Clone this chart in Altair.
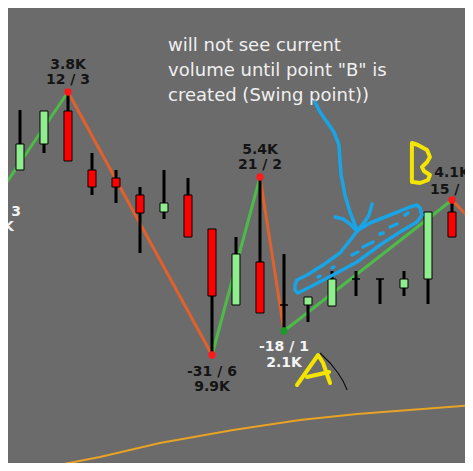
import altair as alt
import pandas as pd

# ---------------- candles (bar index, prices) ----------------
bars = list(range(1, 20))
opens = [330, 356, 389, 330, 322, 305, 288, 305, 271, 195, 238, 195, 195, 194, 221, 221, 212, 221, 288]
closes = [356, 389, 339, 313, 313, 287, 297, 263, 204, 246, 187, 195, 203, 221, 221, 221, 221, 288, 263]
highs = [390, 389, 408, 347, 330, 313, 330, 322, 271, 263, 323, 246, 203, 229, 229, 221, 229, 288, 300]
lows = [330, 347, 339, 305, 297, 247, 281, 263, 145, 195, 187, 169, 178, 194, 204, 196, 204, 196, 263]

# ---------------- swing zigzag ----------------
swing_bar = [0, 3, 9, 11, 12, 19, 21]
swing_price = [302, 408, 145, 323, 169, 300, 250]
pivot_bar = [3, 9, 11, 12, 19]
pivot_price = [408, 145, 323, 169, 300]
pivot_kind = ["high", "low", "high", "current", "high"]

# ---------------- swing labels ----------------
label_bar = [0, 0, 3, 3, 9, 9, 11, 11, 12, 12, 19, 19]
label_price = [288, 273, 435, 420, 128, 113, 350, 335, 153, 137, 327, 310]
label_text = ["-15 / 3", "1.0K", "3.8K", "12 / 3", "-31 / 6", "9.9K",
              "5.4K", "21 / 2", "-18 / 1", "2.1K", "4.1K", "15 / 7"]
label_kind = ["open", "open", "done", "done", "done", "done",
              "done", "done", "open", "open", "done", "done"]

# ---------------- moving average ----------------
ma_bar = [0.5, 1.0, 1.54, 4.33, 6.83, 9.88, 12.67, 15.04, 19.88]
ma_price = [26, 29, 30, 43, 57, 70, 80, 86, 95]

# ---------------- note ----------------
note_lines = ["will not see current", "volume until point \"B\" is", "created (Swing point))"]
note_bar = 7.17
note_price = [449, 424, 399]

# ---------------- hand drawn strokes (bar, price) ----------------
lasso_bar = [12.46, 12.54, 12.96, 13.63, 14.33, 14.83, 15.04, 15.58, 16.42, 17.25, 17.54, 17.67,
             17.75, 17.54, 16.83, 16.00, 15.04, 14.04, 13.08, 12.58, 12.46, 12.46]
lasso_price = [215, 220, 225, 235, 247, 262, 269, 277, 285, 293, 295, 292,
               285, 278, 268, 255, 238, 225, 213, 207, 210, 215]
arrow_bar = [13.29, 13.5, 13.79, 14.08, 14.29, 14.33, 14.38, 14.54, 14.75, 15.04]
arrow_price = [398, 388, 378, 368, 355, 340, 325, 305, 288, 270]
head_l_bar = [14.13, 14.46, 14.75, 15.04]
head_l_price = [283, 281, 276, 269]
head_r_bar = [15.67, 15.54, 15.33, 15.04]
head_r_price = [296, 285, 277, 269]
dash_bar = [[13.42, 13.5], [14.0, 14.08], [14.83, 15.08], [15.29, 15.71],
            [16.0, 16.13], [16.42, 16.71], [17.04, 17.17]]
dash_price = [[223, 224], [232, 233], [245, 248], [253, 258],
              [266, 267], [273, 276], [285, 287]]
b_bar = [17.33, 17.33, 17.58, 17.96, 18.08, 17.96, 17.75, 17.83, 18.08, 18.0, 17.67, 17.38]
b_price = [318, 357, 355, 350, 343, 338, 333, 329, 325, 320, 317, 318]
a_bar = [12.54, 13.42, 13.63, 13.83, 13.92]
a_price = [115, 145, 137, 123, 117]
a_bar_cross = [12.96, 13.88]
a_price_cross = [123, 128]
tail_bar = [13.5, 13.92, 14.25, 14.46, 14.63]
tail_price = [147, 137, 127, 119, 110]

BG = "#6b6b6b"
UP, DOWN = "#4cbb47", "#e2602c"
xs = alt.Scale(domain=[0.5, 19.5417], nice=False, zero=False, padding=0)
ys = alt.Scale(domain=[37, 492], nice=False, zero=False, padding=0)

candles = pd.DataFrame({"bar": bars, "open": opens, "close": closes, "high": highs, "low": lows})
candles["fill"] = ["#90ee90" if c > o else ("#ff0000" if c < o else "#000000") for o, c in zip(opens, closes)]

seg = pd.DataFrame({
    "x": swing_bar[:-1], "y": swing_price[:-1],
    "x2": swing_bar[1:], "y2": swing_price[1:],
})
seg["col"] = [UP if b > a else DOWN for a, b in zip(swing_price[:-1], swing_price[1:])]

pivots = pd.DataFrame({"bar": pivot_bar, "price": pivot_price})
pivots["col"] = ["#1f9a2a" if k == "current" else "#ff1a1a" for k in pivot_kind]
labels = pd.DataFrame({"bar": label_bar, "price": label_price, "text": label_text})
labels["col"] = ["#f4f4f4" if k == "open" else "#141414" for k in label_kind]
ma = pd.DataFrame({"bar": ma_bar, "price": ma_price})
note = pd.DataFrame({"bar": [note_bar] * 3, "price": note_price, "text": note_lines})


def strokes(groups):
    rows = []
    for gid, (bx, py) in enumerate(groups):
        for k, (a, b) in enumerate(zip(bx, py)):
            rows.append({"g": gid, "k": k, "bar": a, "price": b})
    return pd.DataFrame(rows)


blue = strokes([(lasso_bar, lasso_price), (arrow_bar, arrow_price),
                (head_l_bar, head_l_price), (head_r_bar, head_r_price)]
               + list(zip(dash_bar, dash_price)))
yellow = strokes([(b_bar, b_price), (a_bar, a_price), (a_bar_cross, a_price_cross)])
black = strokes([(tail_bar, tail_price)])

X = lambda f: alt.X(f, type="quantitative", scale=xs, axis=None)
Y = lambda f: alt.Y(f, type="quantitative", scale=ys, axis=None)

ma_layer = alt.Chart(ma).mark_line(color="#e8a224", strokeWidth=2, clip=True).encode(
    x=X("bar"), y=Y("price"))

zig = alt.Chart(seg).mark_rule(strokeWidth=3, clip=True).encode(
    x=X("x"), y=Y("y"), x2="x2", y2="y2", color=alt.Color("col:N", scale=None))

wick = alt.Chart(candles).mark_rule(color="black", strokeWidth=3).encode(
    x=X("bar"), y=Y("low"), y2="high")

body = alt.Chart(candles).mark_bar(size=8, stroke="black", strokeWidth=1).encode(
    x=X("bar"), y=Y("open"), y2="close", fill=alt.Fill("fill:N", scale=None))

dots = alt.Chart(pivots).mark_circle(size=55, opacity=1).encode(
    x=X("bar"), y=Y("price"), color=alt.Color("col:N", scale=None))

lab = alt.Chart(labels).mark_text(font="DejaVu Sans", fontSize=14, fontWeight="bold",
                                  baseline="middle", align="center").encode(
    x=X("bar"), y=Y("price"), text="text:N", color=alt.Color("col:N", scale=None))

note_layer = alt.Chart(note).mark_text(font="DejaVu Sans", fontSize=18, color="#f0f0f0",
                                       align="left", baseline="alphabetic").encode(
    x=X("bar"), y=Y("price"), text="text:N")

blue_layer = alt.Chart(blue).mark_line(color="#19a4e6", strokeWidth=3.5, strokeCap="round",
                                       strokeJoin="round").encode(
    x=X("bar"), y=Y("price"), detail="g:N", order="k:Q")
yellow_layer = alt.Chart(yellow).mark_line(color="#f3e500", strokeWidth=4, strokeCap="round",
                                           strokeJoin="round").encode(
    x=X("bar"), y=Y("price"), detail="g:N", order="k:Q")
black_layer = alt.Chart(black).mark_line(color="#111111", strokeWidth=1.2).encode(
    x=X("bar"), y=Y("price"), detail="g:N", order="k:Q")

chart = alt.layer(ma_layer, zig, wick, body, dots, lab, note_layer,
                  blue_layer, yellow_layer, black_layer).properties(
    width=457, height=455, padding=0, background=BG,
    autosize=alt.AutoSizeParams(type="none", contains="padding")
).configure_view(stroke=None, fill=BG)

chart.save("out.html", embed_options={"renderer": "svg", "actions": False})
